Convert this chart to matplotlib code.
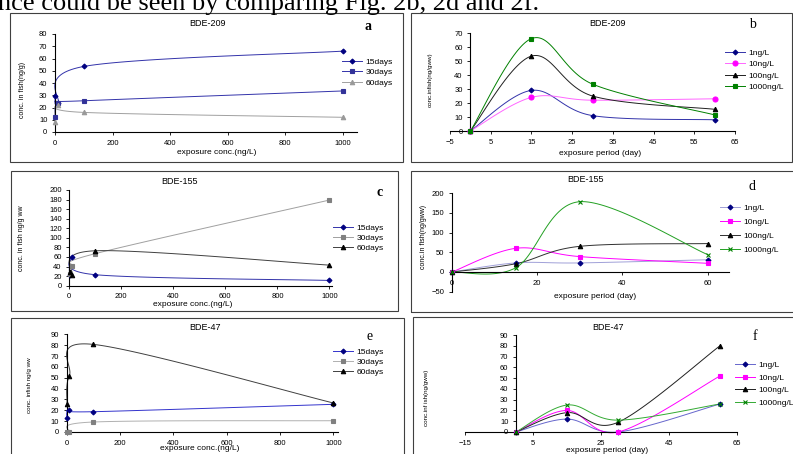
import numpy as np
import matplotlib
matplotlib.use('Agg')
import matplotlib.pyplot as plt
from matplotlib.lines import Line2D
from matplotlib.patches import Rectangle

plt.rcParams['font.family'] = ['Liberation Sans', 'DejaVu Sans']

# ------------------------------ DATA ------------------------------

conc = [1, 10, 100, 1000]          # exposure conc. (ng/L)
days = [0, 15, 30, 60]             # exposure period (day)
day_labels = ['15days', '30days', '60days']
conc_labels = ['1ng/L', '10ng/L', '100ng/L', '1000ng/L']

# BDE-209 vs conc (a)
a_15 = [29, 23.5, 53.5, 66]
a_30 = [12, 24, 25.5, 33.5]
a_60 = [8, 22, 16, 12]
# BDE-209 vs day (b)
b_1 = [0, 29, 11, 8]
b_10 = [0, 24, 22, 23]
b_100 = [0, 53.5, 25, 15.5]
b_1000 = [0, 66, 33.5, 11.5]

# BDE-155 vs conc (c)
c_15 = [22, 60, 23, 11]
c_30 = [24, 41, 67, 179]
c_60 = [28, 22, 73, 43]
# BDE-155 vs day (d)
d_1 = [0, 23, 23, 31]
d_10 = [0, 60, 39, 22]
d_100 = [0, 21, 65, 72]
d_1000 = [0, 11, 178, 44]

# BDE-47 vs conc (e)
e_15 = [12.5, 20, 18.7, 25.5]
e_30 = [0, 0, 9.2, 10.4]
e_60 = [26, 52, 80.7, 26.7]
# BDE-47 vs day (f)
f_1 = [0, 12, 0, 26]
f_10 = [0, 20, 0, 52]
f_100 = [0, 18, 9, 80]
f_1000 = [0, 25, 11, 26]

W, H = 793, 454
TICK = 5.5
LEG = 6
TITLE = 6.5
XLAB = 6
YLAB = 5


def smooth(xs, ys, n=40):
    # Excel-like smoothed line (cubic Bezier through the points)
    P = np.column_stack([xs, ys]).astype(float)
    E = np.vstack([P[0], P, P[-1]])
    t = np.linspace(0, 1, n)[:, None]
    out = []
    for i in range(len(P) - 1):
        p0, p1, p2, p3 = E[i], E[i + 1], E[i + 2], E[i + 3]
        c1 = p1 + (p2 - p0) / 6
        c2 = p2 - (p3 - p1) / 6
        seg = (1 - t) ** 3 * p1 + 3 * (1 - t) ** 2 * t * c1 + 3 * (1 - t) * t ** 2 * c2 + t ** 3 * p2
        out.append(seg if i == 0 else seg[1:])
    s = np.vstack(out)
    return s[:, 0], s[:, 1]


def make_ax(left, top, right, bottom):
    return fig.add_axes([left / W, 1 - bottom / H, (right - left) / W, (bottom - top) / H])


def style(ax, xlim, ylim, xt, yt, cross=False):
    ax.set_xlim(*xlim)
    ax.set_ylim(*ylim)
    ax.set_xticks(xt)
    ax.set_yticks(yt)
    for s in ['top', 'right']:
        ax.spines[s].set_visible(False)
    for s in ['left', 'bottom']:
        ax.spines[s].set_linewidth(0.8)
    if cross:
        ax.spines['left'].set_position(('data', 0))
        ax.spines['bottom'].set_position(('data', 0))
    ax.tick_params(labelsize=TICK, length=2, width=0.6, pad=3.5, direction='out')
    ax.patch.set_alpha(0)


def series(ax, x, y, lc, mc, marker, ms, lw=0.7):
    sx, sy = smooth(x, y)
    ax.plot(sx, sy, color=lc, lw=lw, clip_on=False, zorder=2)
    ax.plot(x, y, linestyle='none', marker=marker, ms=ms, mfc=mc, mec=mc, mew=0.8,
            clip_on=False, zorder=3)
    return Line2D([], [], color=lc, lw=lw, marker=marker, ms=ms, mfc=mc, mec=mc, mew=0.8)


def legend(ax, handles, labels, x, y, spacing=0.3):
    ax.legend(handles, labels, loc='center left', bbox_to_anchor=(x / W, 1 - y / H),
              bbox_transform=fig.transFigure, frameon=False, fontsize=LEG,
              handlelength=2.4, handletextpad=0.4, labelspacing=spacing, borderpad=0,
              borderaxespad=0)


def ftext(x, y, s, **kw):
    fig.text(x / W, 1 - y / H, s, **kw)


fig = plt.figure(figsize=(W / 100, H / 100), dpi=100, facecolor='white')

# top line of the page text
ftext(-2, 10, 'nce could be seen by comparing Fig. 2b, 2d and 2f.', family='Liberation Serif',
      fontsize=19, va='baseline', ha='left')

# panel frames
for l, t, r, b in [(10, 13, 403, 162), (411, 13, 792, 162), (11, 171, 398, 311),
                   (411, 171, 795, 312), (11, 318, 404, 460), (413, 317, 795, 460)]:
    fig.add_artist(Rectangle((l / W, 1 - b / H), (r - l) / W, (b - t) / H, transform=fig.transFigure,
                             fill=False, edgecolor='#404040', lw=0.8))

navy = '#000080'

# ---- a ----
ax = make_ax(55, 34, 357, 132)
style(ax, (0, 1050), (0, 80), range(0, 1001, 200), range(0, 81, 10))
h = [series(ax, conc, a_15, '#3333aa', navy, 'D', 2.5),
     series(ax, conc, a_30, '#3333aa', '#333399', 's', 3.2),
     series(ax, conc, a_60, '#a0a0a0', '#999999', '^', 3.2)]
legend(ax, h, day_labels, 342, 72.5)
ftext(208, 23, 'BDE-209', fontsize=TITLE, ha='center', va='center')
ftext(368, 27, 'a', family='Liberation Serif', fontsize=10, ha='center', va='center', weight='bold')
ftext(217, 152, 'exposure conc.(ng/L)', fontsize=XLAB, ha='center', va='center')
ftext(23, 90, 'conc. in fish(ng/g)', fontsize=YLAB, ha='center', va='center', rotation=90)

# ---- b ----
ax = make_ax(450, 33, 735, 131)
style(ax, (-5, 65), (0, 70), range(-5, 66, 10), range(0, 71, 10), cross=True)
h = [series(ax, days, b_1, '#3333aa', navy, 'D', 2.5),
     series(ax, days, b_10, '#ff66ff', '#ff00ff', 'o', 3.6),
     series(ax, days, b_100, '#202020', 'black', '^', 3.2),
     series(ax, days, b_1000, '#008000', '#008000', 's', 2.8)]
legend(ax, h, conc_labels, 725, 70, spacing=0.45)
ftext(608, 24, 'BDE-209', fontsize=TITLE, ha='center', va='center')
ftext(752, 25, 'b', family='Liberation Serif', fontsize=10, ha='center', va='center')
ftext(600, 153, 'exposure period (day)', fontsize=XLAB, ha='center', va='center')
ftext(430, 80, 'conc.infish(ng/gww)', fontsize=YLAB - 0.5, ha='center', va='center', rotation=90)

# ---- c ----
ax = make_ax(69.3, 190, 332, 285.7)
style(ax, (0, 1010), (0, 200), range(0, 1001, 200), range(0, 201, 20))
h = [series(ax, conc, c_15, '#3333aa', navy, 'D', 2.5),
     series(ax, conc, c_30, '#a0a0a0', '#808080', 's', 3.2),
     series(ax, conc, c_60, '#404040', 'black', '^', 3.2)]
legend(ax, h, day_labels, 333, 238)
ftext(180, 181, 'BDE-155', fontsize=TITLE, ha='center', va='center')
ftext(380, 193, 'c', family='Liberation Serif', fontsize=10, ha='center', va='center', weight='bold')
ftext(193, 305, 'exposure conc.(ng/L)', fontsize=XLAB, ha='center', va='center')
ftext(22, 238, 'conc. in fish ng/g ww', fontsize=YLAB, ha='center', va='center', rotation=90)

# ---- d ----
ax = make_ax(452, 193, 729, 291.75)
style(ax, (0, 65), (-50, 200), [0, 20, 40, 60], range(-50, 201, 50), cross=True)
h = [series(ax, days, d_1, '#a0a0d8', navy, 'D', 2.5),
     series(ax, days, d_10, '#ff00ff', '#ff00ff', 's', 3.2),
     series(ax, days, d_100, '#303030', 'black', '^', 3.2),
     series(ax, days, d_1000, '#22a022', '#008000', 'x', 3.2)]
legend(ax, h, conc_labels, 720, 229, spacing=0.75)
ftext(585, 180, 'BDE-155', fontsize=TITLE, ha='center', va='center')
ftext(752, 186, 'd', family='Liberation Serif', fontsize=10, ha='center', va='center')
ftext(595, 297, 'exposure period (day)', fontsize=XLAB, ha='center', va='center')
ftext(423, 237, 'conc.in fish(ng/gww)', fontsize=YLAB, ha='center', va='center', rotation=90)

# ---- e ----
ax = make_ax(66.7, 334.3, 338, 432)
style(ax, (0, 1017), (0, 90), range(0, 1001, 200), range(0, 91, 10))
h = [series(ax, conc, e_15, '#3333cc', navy, 'D', 2.5),
     series(ax, conc, e_30, '#b0b0b0', '#808080', 's', 3.2),
     series(ax, conc, e_60, '#404040', 'black', '^', 3.2)]
legend(ax, h, day_labels, 333, 362)
ftext(205, 328, 'BDE-47', fontsize=TITLE, ha='center', va='center')
ftext(370, 337, 'e', family='Liberation Serif', fontsize=10, ha='center', va='center')
ftext(200, 449, 'exposure conc.(ng/L)', fontsize=XLAB, ha='center', va='center')
ftext(30, 385, 'conc. infish ng/g ww', fontsize=YLAB - 0.5, ha='center', va='center', rotation=90)

# ---- f ----
ax = make_ax(465, 335, 737, 432)
style(ax, (-15, 65), (0, 90), range(-15, 66, 20), range(0, 91, 10), cross=True)
h = [series(ax, days, f_1, '#6666cc', navy, 'D', 2.5),
     series(ax, days, f_10, '#ff00ff', '#ff00ff', 's', 3.2),
     series(ax, days, f_100, '#202020', 'black', '^', 3.2),
     series(ax, days, f_1000, '#33aa33', '#008000', 'x', 3.2)]
legend(ax, h, conc_labels, 735, 384, spacing=0.55)
ftext(608, 328, 'BDE-47', fontsize=TITLE, ha='center', va='center')
ftext(755, 337, 'f', family='Liberation Serif', fontsize=10, ha='center', va='center')
ftext(607, 450, 'exposure period (day)', fontsize=XLAB, ha='center', va='center')
ftext(426, 398, 'conc.inf ish(ng/gww)', fontsize=YLAB - 0.5, ha='center', va='center', rotation=90)

fig.savefig('out.png', dpi=100, facecolor='white')
